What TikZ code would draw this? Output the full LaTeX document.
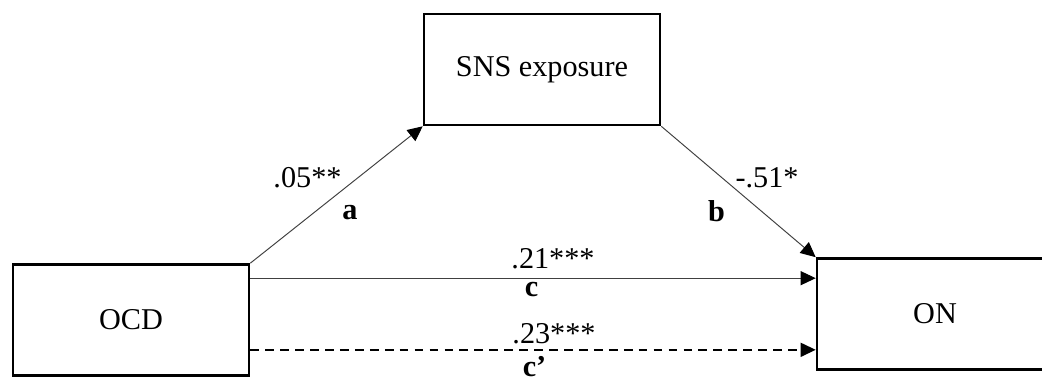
\documentclass[tikz,border=0pt]{standalone}
\usepackage{fontspec}
\setmainfont{Liberation Serif}
\usepackage{tikz}
\usetikzlibrary{arrows.meta,calc}

\begin{document}
\begin{tikzpicture}[
    >={Triangle[length=0.3cm, width=0.28cm, color=black]},
    box/.style={draw, line width=1.5pt, minimum width=4.72cm, minimum height=2.22cm, align=center},
    arrow/.style={->, line width=0.55pt, draw=black!75},
    lbl/.style={midway, inner sep=0pt},
    every node/.style={font=\fontsize{17.2}{20}\selectfont}
]
\useasboundingbox (0,0) rectangle (20.84,7.64);

% ---- Variables ----
\node[box] (ocd) at (2.62, 1.24) {OCD};
\node[box] (sns) at (10.84, 6.25) {SNS exposure};
\node[box] (on) at (18.70, 1.36) {ON};

% ---- Path ends for direct effects ----
\coordinate (cstart) at ([yshift=-0.3cm]ocd.north east);
\coordinate (cpstart) at ([yshift=0.54cm]ocd.south east);

% ---- Indirect path ----
\draw[arrow] (ocd.north east) -- node[lbl, xshift=-0.58cm, yshift=0.34cm] {.05**}
    node[lbl, xshift=0.27cm, yshift=-0.36cm] {\textbf{a}} (sns.south west);
\draw[arrow] (sns.south east) -- node[lbl, xshift=0.57cm, yshift=0.28cm] {-.51*}
    node[lbl, xshift=-0.44cm, yshift=-0.38cm] {\textbf{b}} (on.north west);

% ---- Direct paths ----
\draw[arrow] (cstart) -- node[lbl, xshift=0.4cm, yshift=0.38cm] {.21***}
    node[lbl, xshift=-0.03cm, yshift=-0.23cm] {\textbf{c}} (cstart -| on.west);
\draw[arrow, draw=black, line width=0.8pt, dash pattern=on 5pt off 3.5pt] (cpstart) -- node[lbl, xshift=0.42cm, yshift=0.32cm] {.23***}
    node[lbl, xshift=0.03cm, yshift=-0.34cm] {\textbf{c’}} (cpstart -| on.west);

\end{tikzpicture}
\end{document}
